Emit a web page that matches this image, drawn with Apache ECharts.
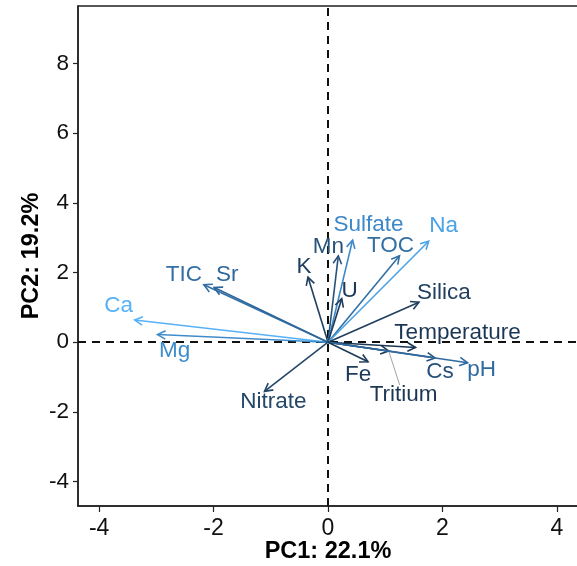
<!DOCTYPE html>
<html>
<head>
<meta charset="utf-8">
<script src="https://cdn.jsdelivr.net/npm/echarts@6/dist/echarts.min.js"></script>
<style>
html,body{margin:0;padding:0;background:#fff;}
#chart{width:577px;height:566px;}
</style>
</head>
<body>
<div id="chart"></div>
<script>
// ---- data ----
const variables = ['Ca','Mg','TIC','Sr','K','Mn','Sulfate','U','TOC','Na','Silica','Temperature','Tritium','Cs','pH','Fe','Nitrate'];
const pc1 = [-3.38,-2.98,-2.17,-1.99,-0.35,0.18,0.43,0.24,1.25,1.76,1.59,1.53,1.06,1.87,2.44,0.70,-1.11];
const pc2 = [0.64,0.22,1.65,1.57,1.87,2.48,2.93,1.25,2.48,2.90,1.15,-0.15,-0.25,-0.45,-0.59,-0.56,-1.41];
const xTicks = [-4,-2,0,2,4];
const yTicks = [-4,-2,0,2,4,6,8];
const xTitle = 'PC1: 22.1%';
const yTitle = 'PC2: 19.2%';

// ---- style ----
const colors = ['#56B1F7','#3F8CCB','#336FA5','#2E679A','#1F3F60','#27537B','#3D88C8','#1C3A58','#3270A3','#4BA2E4','#213F5F','#1B3654','#1B3654','#26517A','#2F6BA0','#1E3A58','#234769'];
// label center offsets from arrow tip (px)
const labelOffsets = [[-16,-14],[17,16],[-20,-10],[13,-13],[-4,-10],[-10,-9],[16,-15],[8,-8],[-9,-10],[15,-15],[25,-9],[42,-15],[15,44],[5,14],[14,7],[-10,13],[9,10]];
const leaders = {'Tritium':[-4,-10]};
const FONT = '"Liberation Sans", Arial, Helvetica, sans-serif';

const chart = echarts.init(document.getElementById('chart'), null, {renderer:'canvas'});

const arrowData = variables.map((v,i)=>[pc1[i], pc2[i], i]);

function renderArrow(params, api){
  const i = api.value(2);
  const o = api.coord([0,0]);
  const t = api.coord([api.value(0), api.value(1)]);
  const c = colors[i];
  const ang = Math.atan2(t[1]-o[1], t[0]-o[0]);
  const L = 9, a = 28*Math.PI/180;
  const h1 = [t[0]-L*Math.cos(ang-a), t[1]-L*Math.sin(ang-a)];
  const h2 = [t[0]-L*Math.cos(ang+a), t[1]-L*Math.sin(ang+a)];
  const off = labelOffsets[i];
  const lc = [t[0]+off[0], t[1]+off[1]];
  const children = [
    {type:'line', shape:{x1:o[0],y1:o[1],x2:t[0],y2:t[1]}, style:{stroke:c, lineWidth:1.6}},
    {type:'polyline', shape:{points:[h1,t,h2]}, style:{stroke:c, lineWidth:1.6, fill:null}},
  ];
  const name = variables[i];
  if (leaders[name]) {
    const le = leaders[name];
    children.push({type:'line', shape:{x1:t[0],y1:t[1],x2:lc[0]+le[0],y2:lc[1]+le[1]}, style:{stroke:'#8a8a8a', lineWidth:0.8}});
  }
  children.push({type:'text', x:lc[0], y:lc[1], style:{text:name, fill:c, font:'22.5px '+FONT, align:'center', verticalAlign:'middle'}, z2:10});
  return {type:'group', children};
}

const option = {
  animation:false,
  backgroundColor:'#ffffff',
  grid:{left:78, top:6, width:500, height:500, show:true, borderColor:'#222', borderWidth:1.5, containLabel:false, outerBoundsMode:'none'},
  xAxis:{
    type:'value', min:-4.37, max:4.37,
    name:xTitle, nameLocation:'middle', nameGap:34, nameMoveOverlap:false,
    nameTextStyle:{fontFamily:FONT, fontSize:23.5, fontWeight:'bold', color:'#000'},
    axisLine:{show:true, onZero:false, lineStyle:{color:'#222', width:1.5}},
    axisTick:{show:true, length:6, customValues:xTicks, lineStyle:{color:'#222', width:1.2}},
    axisLabel:{customValues:xTicks, fontFamily:FONT, fontSize:23, color:'#111', margin:11},
    splitLine:{show:false}
  },
  yAxis:{
    type:'value', min:-4.7, max:9.65,
    name:yTitle, nameLocation:'middle', nameGap:34, nameMoveOverlap:false,
    nameTextStyle:{fontFamily:FONT, fontSize:23.5, fontWeight:'bold', color:'#000'},
    axisLine:{show:true, onZero:false, lineStyle:{color:'#222', width:1.5}},
    axisTick:{show:true, length:5, customValues:yTicks, lineStyle:{color:'#222', width:1.2}},
    axisLabel:{customValues:yTicks, fontFamily:FONT, fontSize:22.5, color:'#111', margin:9},
    splitLine:{show:false}
  },
  series:[
    {
      type:'line', data:[], silent:true,
      markLine:{
        silent:true, symbol:['none','none'],
        label:{show:false},
        lineStyle:{color:'#111', type:[8,6], width:2},
        data:[{xAxis:0},{yAxis:0}]
      }
    },
    {
      type:'custom', renderItem:renderArrow, data:arrowData,
      encode:{x:0, y:1}, clip:false, silent:true, z:5
    }
  ]
};
chart.setOption(option);
</script>
</body>
</html>
